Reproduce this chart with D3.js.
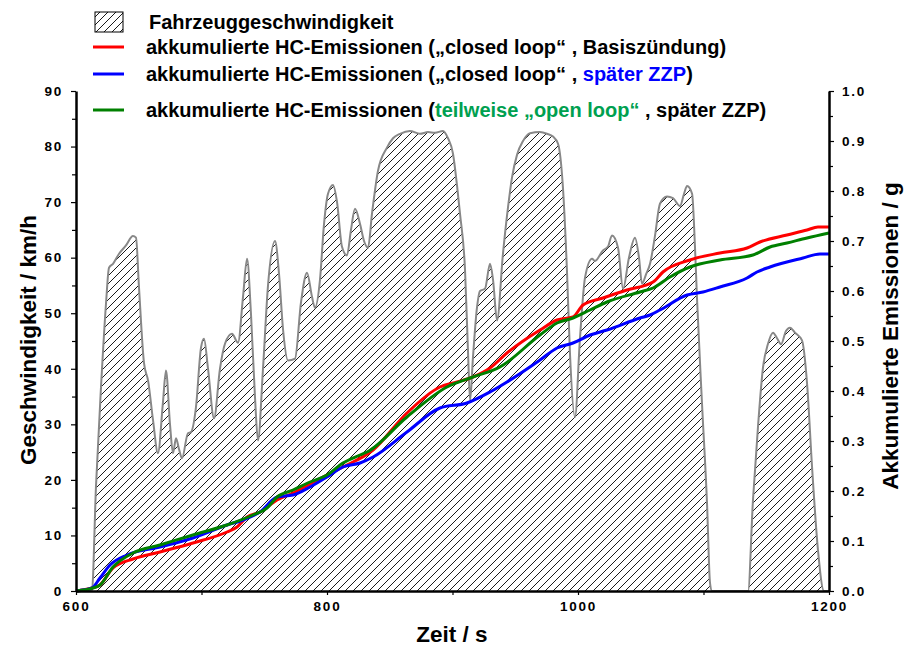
<!DOCTYPE html>
<html>
<head>
<meta charset="utf-8">
<script src="https://cdn.jsdelivr.net/npm/d3@7"></script>
<style>
  html, body { margin: 0; padding: 0; background: #fff; }
  svg { display: block; font-family: "Liberation Sans", Arial, sans-serif; }
</style>
</head>
<body>
<svg id="chart" width="905" height="646"></svg>
<script>
// Vehicle speed trace (time in s, speed in km/h)
const speedT = [600, 612.7, 615.9, 619.9, 623.9, 626.3, 629.5, 634.3, 639.8, 645.4, 647.8, 650.2, 654.2, 657.4, 661.4, 665.3,
  669.3, 671.7, 674.9, 677.3, 679.7, 682.1, 684.5, 689.2, 691.6, 695.6, 699.6, 702.0, 705.2, 710.0, 714.7, 718.7,
  724.3, 729.1, 733.1, 736.3, 739.4, 742.6, 745.0, 749.0, 753.0, 758.6, 761.8, 765.0, 768.9, 774.5, 779.3, 784.1,
  788.0, 790.4, 794.4, 797.6, 800.8, 804.8, 808.0, 811.9, 815.9, 819.1, 822.3, 826.3, 829.5, 832.7, 835.9, 840.6,
  847.8, 852.6, 858.2, 866.1, 874.1, 880.5, 886.1, 892.4, 896.4, 900.4, 903.6, 906.0, 910.0, 912.4, 914.0, 916.3,
  919.5, 921.9, 925.9, 929.9, 932.3, 935.5, 940.2, 944.2, 947.4, 951.4, 956.2, 961.8, 969.7, 975.3, 980.1, 984.1,
  988.0, 991.2, 993.6, 997.6, 1001.6, 1005.6, 1011.2, 1013.5, 1019.9, 1023.9, 1027.1, 1031.9, 1035.9, 1040.6, 1045.4, 1048.6,
  1051.0, 1054.2, 1057.4, 1061.4, 1065.3, 1070.9, 1075.7, 1081.3, 1084.5, 1086.9, 1090.9, 1093.2, 1094.8, 1098.8, 1102.8, 1105.2,
  1106.8, 1135.5, 1139.4, 1143.4, 1147.4, 1151.4, 1155.4, 1158.6, 1161.8, 1165.7, 1168.9, 1172.9, 1178.5, 1182.5, 1186.5, 1191.2,
  1196.0, 1200];
const speedV = [0, 0, 18.7, 36.6, 51.7, 58.2, 58.9, 60.7, 62.2, 63.9, 63.6, 54.6, 41.0, 37.9, 30.7, 24.8,
  34, 39.7, 30, 24.8, 27.5, 25.5, 23.9, 28.4, 28.6, 33.1, 43.8, 45.4, 40, 31.1, 40, 44.5,
  46.3, 44.7, 53, 59.8, 50, 35, 27.1, 40, 55, 63.0, 57, 47, 41.5, 41.8, 52, 57.3,
  53, 51.0, 56, 66, 71.5, 73.1, 70, 62, 60.4, 65, 68.8, 66.1, 63, 61.8, 68, 75.6,
  79.8, 81.5, 82.3, 82.8, 82.3, 82.6, 82.5, 82.8, 81.5, 78.7, 73, 67.9, 57.7, 42.8, 34.3, 42,
  51, 54.0, 54.4, 58.9, 56, 48.7, 60.7, 69, 74.4, 78.5, 81.0, 82.4, 82.6, 82.3, 81.8, 80.5,
  72.6, 57.7, 42.8, 31.3, 45.6, 56.4, 59.8, 59.4, 61.3, 62, 64.0, 61.8, 54.4, 60, 63.6, 60,
  55.3, 57, 58.9, 64, 69.7, 71.0, 70.7, 69.3, 71.5, 72.9, 71.5, 62, 52.8, 33.8, 15.8, 1.4,
  0, 0, 16.3, 29.5, 40.2, 44.5, 46.5, 45.5, 44.4, 46.8, 47.4, 46.5, 45.1, 37.4, 22.3, 7.4,
  0, 0];

// Accumulated HC emissions in g: closed loop, base ignition timing
const redT = [600, 612.7, 619.1, 629.5, 645.4, 666.9, 693.2, 720.3, 728.3, 736.3, 746.6, 760.2, 772.9, 800.0, 812.7, 836.7,
  863.7, 890.0, 903.6, 916.3, 929.9, 943.4, 969.7, 983.3, 996.0, 1004.0, 1019.9, 1039.0, 1059.8, 1067.7, 1089.2, 1113.1,
  1134.7, 1145.0, 1166.5, 1182.5, 1191.2, 1200];
const redG = [0, 0.006, 0.012, 0.046, 0.064, 0.078, 0.096, 0.118, 0.128, 0.148, 0.158, 0.182, 0.196, 0.232, 0.248, 0.282,
  0.356, 0.408, 0.418, 0.428, 0.446, 0.476, 0.522, 0.542, 0.548, 0.572, 0.586, 0.602, 0.618, 0.638, 0.662, 0.676,
  0.686, 0.698, 0.712, 0.722, 0.728, 0.728];

// Accumulated HC emissions in g: closed loop, retarded ignition timing
const blueT = [600, 612.7, 619.1, 627.1, 640.6, 666.9, 693.2, 720.3, 733.1, 746.6, 760.2, 772.9, 786.5, 800.0, 812.7, 826.3,
  836.7, 863.7, 890.0, 911.5, 929.9, 943.4, 969.7, 983.3, 996.0, 1009.6, 1023.1, 1049.4, 1057.4, 1065.3, 1086.9, 1099.6,
  1113.1, 1134.7, 1142.6, 1153.0, 1179.3, 1192.8, 1200];
const blueG = [0, 0.006, 0.026, 0.052, 0.072, 0.088, 0.106, 0.132, 0.142, 0.158, 0.188, 0.192, 0.208, 0.228, 0.248, 0.256,
  0.268, 0.318, 0.366, 0.376, 0.398, 0.418, 0.462, 0.486, 0.496, 0.512, 0.522, 0.546, 0.552, 0.562, 0.592, 0.598,
  0.608, 0.626, 0.638, 0.648, 0.666, 0.674, 0.674];

// Accumulated HC emissions in g: partly open loop, retarded ignition timing
const greenT = [600, 613.5, 619.1, 629.5, 645.4, 666.9, 693.2, 720.3, 741.0, 752.2, 760.2, 772.9, 786.5, 800.0, 812.7, 826.3,
  831.9, 863.7, 895.6, 916.3, 937.8, 969.7, 983.3, 996.0, 1009.6, 1023.1, 1049.4, 1059.8, 1073.3, 1089.2, 1113.1, 1139.4,
  1153.0, 1166.5, 1182.5, 1200];
const greenG = [0, 0.006, 0.012, 0.048, 0.076, 0.092, 0.112, 0.132, 0.152, 0.166, 0.188, 0.202, 0.218, 0.232, 0.256, 0.272,
  0.278, 0.348, 0.408, 0.428, 0.448, 0.512, 0.536, 0.546, 0.562, 0.578, 0.598, 0.606, 0.628, 0.648, 0.662, 0.672,
  0.688, 0.696, 0.706, 0.716];

const leftTicks = [0, 10, 20, 30, 40, 50, 60, 70, 80, 90];
const rightTicks = [0, 0.1, 0.2, 0.3, 0.4, 0.5, 0.6, 0.7, 0.8, 0.9, 1.0];
const xTicks = [600, 700, 800, 900, 1000, 1100, 1200];
const xLabels = [600, 800, 1000, 1200];

const svg = d3.select("#chart");
const x = d3.scaleLinear().domain([600, 1200]).range([76, 829]);
const yL = d3.scaleLinear().domain([0, 90]).range([591, 91]);
const yR = d3.scaleLinear().domain([0, 1]).range([591, 91]);

// hatch pattern for the speed area
const defs = svg.append("defs");
const pat = defs.append("pattern").attr("id", "hatch")
  .attr("patternUnits", "userSpaceOnUse").attr("width", 8).attr("height", 8);
pat.append("path").attr("d", "M0,8 L8,0 M-2,2 L2,-2 M6,10 L10,6")
  .attr("stroke", "#000").attr("stroke-width", 0.9);

const speed = speedT.map((t, i) => [t, speedV[i]]);
const area = d3.area().x(d => x(d[0])).y0(yL(0)).y1(d => yL(d[1])).curve(d3.curveMonotoneX);
const sline = d3.line().x(d => x(d[0])).y(d => yL(d[1])).curve(d3.curveMonotoneX);

svg.append("path").datum(speed).attr("d", area).attr("fill", "url(#hatch)");
svg.append("path").datum(speed).attr("d", sline)
  .attr("fill", "none").attr("stroke", "#888").attr("stroke-width", 2);

// emission lines
const eline = d3.line().x(d => x(d[0])).y(d => yR(d[1])).curve(d3.curveMonotoneX);
const series = [
  { t: redT, g: redG, c: "#ff0000" },
  { t: blueT, g: blueG, c: "#0000ff" },
  { t: greenT, g: greenG, c: "#008000" }
];
series.forEach(s => {
  svg.append("path").datum(s.t.map((t, i) => [t, s.g[i]])).attr("d", eline)
    .attr("fill", "none").attr("stroke", s.c).attr("stroke-width", 3)
    .attr("stroke-linejoin", "round");
});

// axes
function styleAxis(g) {
  g.select(".domain").attr("stroke", "#000").attr("stroke-width", 2.5);
  g.selectAll(".tick line").attr("stroke", "#000").attr("stroke-width", 1.2);
  g.selectAll(".tick text").attr("font-family", "Liberation Sans, Arial, sans-serif")
    .attr("font-weight", "bold").attr("font-size", 13.5).attr("letter-spacing", 1.8).attr("fill", "#000");
}

const minorL = d3.range(5, 90, 10);
svg.append("g").attr("transform", "translate(76,0)")
  .call(d3.axisLeft(yL).tickValues(minorL).tickSize(4).tickFormat("").tickSizeOuter(0))
  .call(g => { g.select(".domain").remove(); g.selectAll("line").attr("stroke", "#000").attr("stroke-width", 1.2); });
svg.append("g").attr("transform", "translate(76,0)")
  .call(d3.axisLeft(yL).tickValues(leftTicks).tickSize(5).tickPadding(8).tickSizeOuter(0))
  .call(styleAxis);

const minorR = d3.range(0.05, 1, 0.1);
svg.append("g").attr("transform", "translate(829,0)")
  .call(d3.axisRight(yR).tickValues(minorR).tickSize(4).tickFormat("").tickSizeOuter(0))
  .call(g => { g.select(".domain").remove(); g.selectAll("line").attr("stroke", "#000").attr("stroke-width", 1.2); });
svg.append("g").attr("transform", "translate(829,0)")
  .call(d3.axisRight(yR).tickValues(rightTicks).tickFormat(d3.format(".1f")).tickSize(5).tickPadding(8).tickSizeOuter(0))
  .call(styleAxis);

svg.append("g").attr("transform", "translate(0,591)")
  .call(d3.axisBottom(x).tickValues(xTicks).tickSize(4).tickPadding(6).tickSizeOuter(0)
    .tickFormat(d => xLabels.includes(d) ? d : ""))
  .call(styleAxis);

// axis titles
svg.append("text").attr("transform", "translate(36,340) rotate(-90)")
  .attr("text-anchor", "middle").attr("font-weight", "bold").attr("font-size", 22.5)
  .text("Geschwindigkeit / km/h");
svg.append("text").attr("transform", "translate(898,336) rotate(-90)")
  .attr("text-anchor", "middle").attr("font-weight", "bold").attr("font-size", 22.5)
  .text("Akkumulierte Emissionen / g");
svg.append("text").attr("x", 452).attr("y", 642)
  .attr("text-anchor", "middle").attr("font-weight", "bold").attr("font-size", 22.5)
  .text("Zeit / s");

// legend
const lg = svg.append("g");
lg.append("rect").attr("x", 95).attr("y", 12).attr("width", 28).attr("height", 20)
  .attr("fill", "url(#hatch)").attr("stroke", "#000").attr("stroke-width", 1);
lg.append("text").attr("x", 149).attr("y", 29).attr("font-weight", "bold").attr("font-size", 20)
  .text("Fahrzeuggeschwindigkeit");
const legendRows = [
  { y: 47, c: "#ff0000", parts: [["akkumulierte HC-Emissionen („closed loop“ , Basiszündung)", "#000"]] },
  { y: 74, c: "#0000ff", parts: [["akkumulierte HC-Emissionen („closed loop“ , ", "#000"], ["später ZZP", "#0000ff"], [")", "#000"]] },
  { y: 110, c: "#008000", parts: [["akkumulierte HC-Emissionen (", "#000"], ["teilweise „open loop“", "#00a050"], [" , später ZZP)", "#000"]] }
];
legendRows.forEach(r => {
  lg.append("line").attr("x1", 93).attr("x2", 124).attr("y1", r.y).attr("y2", r.y)
    .attr("stroke", r.c).attr("stroke-width", 3);
  const t = lg.append("text").attr("x", 146).attr("y", r.y + 7).attr("font-weight", "bold").attr("font-size", 20);
  r.parts.forEach(p => t.append("tspan").attr("fill", p[1]).text(p[0]));
});
</script>
</body>
</html>
